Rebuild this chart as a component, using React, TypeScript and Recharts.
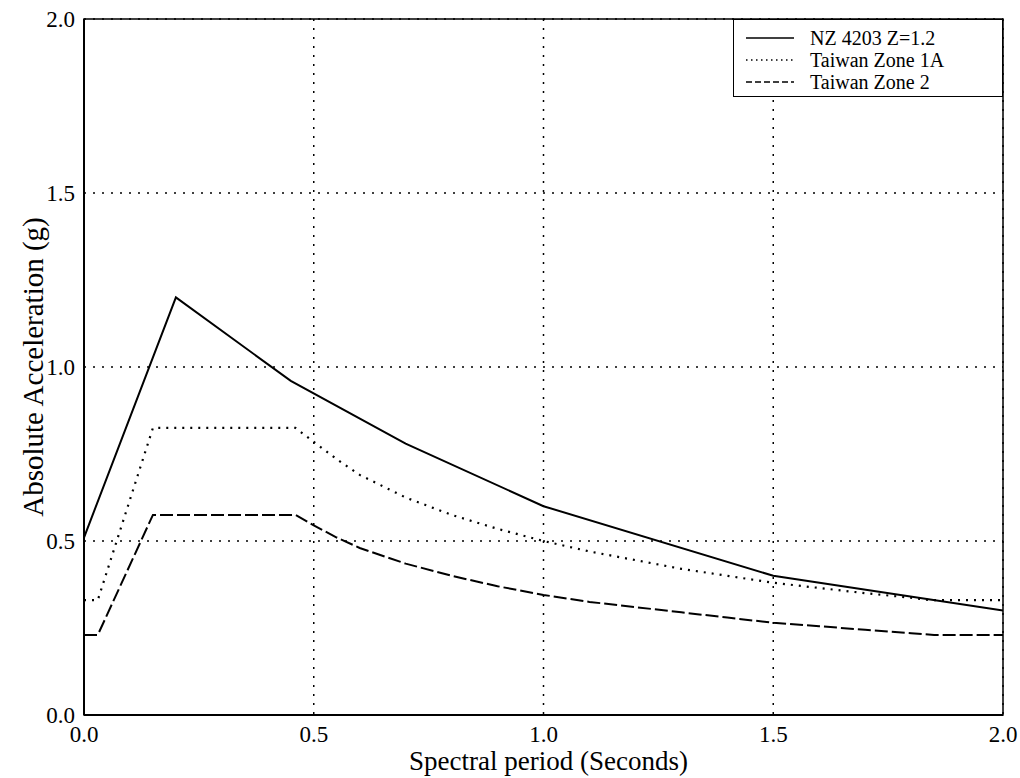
import React from 'react';
import {
  LineChart,
  Line,
  XAxis,
  YAxis,
  CartesianGrid,
  ReferenceArea,
  Legend,
} from 'recharts';

// ---- Data ----
const xTicks = [0, 0.5, 1.0, 1.5, 2.0];
const yTicks = [0, 0.5, 1.0, 1.5, 2.0];

const seriesNames = ['NZ 4203 Z=1.2', 'Taiwan Zone 1A', 'Taiwan Zone 2'];

const nzPeriod = [0, 0.2, 0.45, 0.7, 1.0, 1.5, 2.0];
const nzAccel = [0.51, 1.2, 0.96, 0.78, 0.6, 0.4, 0.3];

const tw1aPeriod = [0, 0.03, 0.15, 0.46, 0.5, 0.55, 0.6, 0.7, 0.8, 0.9, 1.0, 1.1, 1.2, 1.3, 1.4, 1.5, 1.6, 1.7, 1.8, 1.84, 2.0];
const tw1aAccel = [0.33, 0.33, 0.825, 0.825, 0.785, 0.735, 0.69, 0.625, 0.575, 0.535, 0.5, 0.47, 0.445, 0.42, 0.4, 0.38, 0.365, 0.35, 0.337, 0.33, 0.33];

const tw2Period = [0, 0.03, 0.15, 0.46, 0.5, 0.55, 0.6, 0.7, 0.8, 0.9, 1.0, 1.1, 1.2, 1.3, 1.4, 1.5, 1.6, 1.7, 1.8, 1.85, 2.0];
const tw2Accel = [0.23, 0.23, 0.575, 0.575, 0.545, 0.51, 0.48, 0.435, 0.4, 0.37, 0.345, 0.325, 0.31, 0.295, 0.28, 0.265, 0.255, 0.245, 0.235, 0.23, 0.23];

const toRows = (p: number[], a: number[]) => p.map((t, i) => ({ t, a: a[i] }));
const nzData = toRows(nzPeriod, nzAccel);
const tw1aData = toRows(tw1aPeriod, tw1aAccel);
const tw2Data = toRows(tw2Period, tw2Accel);

const FONT = 'Liberation Serif, Times New Roman, serif';
const DOTTED = '2 6';
const DASHED = '13 4';

const XTitle = (props: any) => {
  const vb = props.viewBox || {};
  const cx = vb.x + vb.width / 2;
  return (
    <text x={cx + 5} y={770} textAnchor="middle" style={{ fontFamily: FONT, fontSize: 27 }} fill="#000">
      Spectral period (Seconds)
    </text>
  );
};

const YTitle = () => {
  const cy = 367;
  const cx = 33;
  return (
    <text
      x={cx}
      y={cy}
      textAnchor="middle"
      dominantBaseline="central"
      transform={`rotate(-90 ${cx} ${cy})`}
      style={{ fontFamily: FONT, fontSize: 29 }}
      fill="#000"
    >
      Absolute Acceleration (g)
    </text>
  );
};

const legendStyles = [
  { dash: undefined as string | undefined },
  { dash: '1.5 3.5' },
  { dash: '6 3' },
];

const LegendBox = () => (
  <div
    style={{
      width: 270,
      height: 78,
      boxSizing: 'border-box',
      border: '1.5px solid #000',
      background: '#fff',
      padding: '7px 0 0 12px',
      fontFamily: FONT,
      fontSize: 20,
      lineHeight: '22px',
      color: '#000',
    }}
  >
    {seriesNames.map((n, i) => (
      <div key={n} style={{ display: 'flex', alignItems: 'center', height: 22 }}>
        <svg width={48} height={10} style={{ marginRight: 16 }}>
          <line x1={0} y1={5} x2={48} y2={5} stroke="#000" strokeWidth={1.5} strokeDasharray={legendStyles[i].dash} />
        </svg>
        <span>{n}</span>
      </div>
    ))}
  </div>
);

const tickStyle = { fill: '#000', fontSize: 23, style: { fontFamily: FONT } };

export default function App() {
  return (
    <div style={{ position: 'absolute', left: 0, top: 0, width: 1020, height: 778, background: '#fff', fontFamily: FONT }}>
      <LineChart width={1020} height={778} margin={{ top: 19, right: 17, left: 0, bottom: 0 }} style={{ fontFamily: FONT }}>
        <CartesianGrid stroke="#000" strokeWidth={1.5} strokeDasharray="2 7" />
        <XAxis
          dataKey="t"
          type="number"
          domain={[0, 2]}
          ticks={xTicks}
          allowDataOverflow
          height={63}
          tickSize={0}
          tickMargin={11}
          tickLine={false}
          axisLine={{ stroke: '#000', strokeWidth: 2 }}
          tickFormatter={(v: number) => v.toFixed(1)}
          tick={tickStyle}
          label={<XTitle />}
        />
        <YAxis
          type="number"
          domain={[0, 2]}
          ticks={yTicks}
          allowDataOverflow
          width={84}
          tickSize={0}
          tickMargin={9}
          tickLine={false}
          axisLine={{ stroke: '#000', strokeWidth: 2 }}
          tickFormatter={(v: number) => v.toFixed(1)}
          tick={tickStyle}
          label={<YTitle />}
        />
        <ReferenceArea x1={0} x2={2} y1={0} y2={2} fill="none" stroke="#000" strokeWidth={1.5} fillOpacity={0} />
        <Line data={nzData} dataKey="a" type="linear" stroke="#000" strokeWidth={2} dot={false} isAnimationActive={false} name={seriesNames[0]} />
        <Line data={tw1aData} dataKey="a" type="linear" stroke="#000" strokeWidth={2.2} strokeDasharray={DOTTED} dot={false} isAnimationActive={false} name={seriesNames[1]} />
        <Line data={tw2Data} dataKey="a" type="linear" stroke="#000" strokeWidth={2} strokeDasharray={DASHED} dot={false} isAnimationActive={false} name={seriesNames[2]} />
        <Legend
          layout="vertical"
          align="center"
          verticalAlign="middle"
          content={() => <LegendBox />}
          wrapperStyle={{ top: 19, left: 733, width: 270, height: 78, right: 'auto', bottom: 'auto' }}
        />
      </LineChart>
    </div>
  );
}
